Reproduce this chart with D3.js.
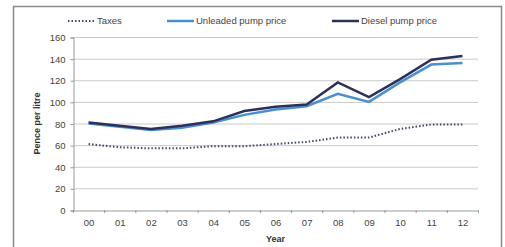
<!DOCTYPE html>
<html>
<head>
<meta charset="utf-8">
<title>fuel prices</title>
<script src="https://cdn.jsdelivr.net/npm/d3@7"></script>
<style>
  body { margin: 0; background: #fff; }
</style>
</head>
<body>
<div id="chart"></div>
<script>
// data
const years = ["00","01","02","03","04","05","06","07","08","09","10","11","12"];
const taxes = [61, 58, 57, 57, 59, 59, 61, 63, 67, 67, 75, 79, 79];
const unleaded = [80, 77, 74, 76, 81, 88, 93, 96, 107.5, 100, 118, 134.5, 136];
const diesel = [81, 78, 75, 78, 82, 91.5, 95.5, 97.5, 118, 104.5, 121, 139, 142.5];
const yTicks = [0, 20, 40, 60, 80, 100, 120, 140, 160];

const width = 505, height = 247;
const margin = {top: 37, right: 27, bottom: 37, left: 73};

const svg = d3.select("#chart").append("svg")
    .attr("width", width)
    .attr("height", height)
    .attr("font-family", "Liberation Sans, Arial, sans-serif")
    .attr("font-size", 9);

// frame
svg.append("rect")
    .attr("x", 13.5).attr("y", 6.5)
    .attr("width", 488).attr("height", 250)
    .attr("fill", "none")
    .attr("stroke", "#8a8a8a")
    .attr("stroke-width", 1.5);

const x = d3.scaleBand()
    .domain(years)
    .range([margin.left, width - margin.right]);

const y = d3.scaleLinear()
    .domain([0, 160])
    .range([height - margin.bottom, margin.top]);

// gridlines
svg.append("g")
    .selectAll("line")
    .data(yTicks.filter(d => d > 0))
    .join("line")
    .attr("x1", margin.left).attr("x2", width - margin.right)
    .attr("y1", d => y(d) + 0.5).attr("y2", d => y(d) + 0.5)
    .attr("stroke", "#c9c9c9");

// y axis
svg.append("g")
    .attr("transform", `translate(${margin.left + 0.5},0.5)`)
    .call(d3.axisLeft(y).tickValues(yTicks).tickSize(3).tickPadding(5))
    .call(g => g.selectAll(".domain, line").attr("stroke", "#999"))
    .call(g => g.selectAll("text").attr("fill", "#444").attr("font-size", 9.5));

// x axis
svg.append("g")
    .attr("transform", `translate(0.5,${height - margin.bottom + 0.5})`)
    .call(d3.axisBottom(x).tickSize(0).tickPadding(9))
    .call(g => g.select(".domain").attr("stroke", "#999"))
    .call(g => g.selectAll("text").attr("fill", "#444").attr("font-size", 9.5));

// tick marks between categories
svg.append("g")
    .selectAll("line")
    .data(years.concat(["end"]))
    .join("line")
    .attr("x1", (d, i) => margin.left + i * x.bandwidth() + 0.5)
    .attr("x2", (d, i) => margin.left + i * x.bandwidth() + 0.5)
    .attr("y1", height - margin.bottom)
    .attr("y2", height - margin.bottom + 3)
    .attr("stroke", "#999");

// axis titles
svg.append("text")
    .attr("x", (margin.left + width - margin.right) / 2)
    .attr("y", 242)
    .attr("text-anchor", "middle")
    .attr("font-weight", "bold")
    .attr("fill", "#333")
    .text("Year");

svg.append("text")
    .attr("transform", `translate(40,${y(80)}) rotate(-90)`)
    .attr("text-anchor", "middle")
    .attr("font-weight", "bold")
    .attr("fill", "#333")
    .text("Pence per litre");

const line = d3.line()
    .x((d, i) => x(years[i]) + x.bandwidth() / 2)
    .y(d => y(d));

const series = [
  {name: "Taxes", values: taxes, color: "#3f4766", width: 2, dash: "1.5,2"},
  {name: "Unleaded pump price", values: unleaded, color: "#4a8fce", width: 2.5, dash: null},
  {name: "Diesel pump price", values: diesel, color: "#2b3158", width: 2.5, dash: null}
];

svg.append("g")
    .selectAll("path")
    .data(series)
    .join("path")
    .attr("d", d => line(d.values))
    .attr("fill", "none")
    .attr("stroke", d => d.color)
    .attr("stroke-width", d => d.width)
    .attr("stroke-dasharray", d => d.dash);

// legend
const legendX = [68, 167, 332];
const leg = svg.append("g")
    .selectAll("g")
    .data(series)
    .join("g")
    .attr("transform", (d, i) => `translate(${legendX[i]},21)`);

leg.append("line")
    .attr("x1", 0).attr("x2", 27)
    .attr("stroke", d => d.color)
    .attr("stroke-width", d => d.width)
    .attr("stroke-dasharray", d => d.dash);

leg.append("text")
    .attr("x", 29)
    .attr("dy", "0.35em")
    .attr("fill", "#444")
    .attr("font-size", 9.5)
    .text(d => d.name);
</script>
</body>
</html>
